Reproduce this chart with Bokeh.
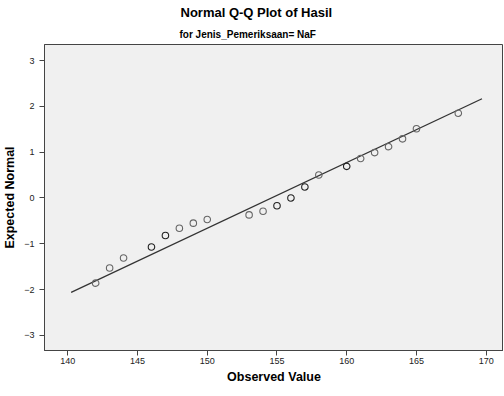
from bokeh.plotting import figure
from bokeh.models import Title, FixedTicker, Range1d, ColumnDataSource
from bokeh.embed import file_html
from bokeh.resources import INLINE

# Data
observed = [142, 143, 144, 146, 147, 148, 149, 150, 153, 154, 155,
            156, 157, 158, 160, 161, 162, 163, 164, 165, 168]
expected = [-1.86, -1.53, -1.31, -1.07, -0.82, -0.66, -0.55, -0.47, -0.37, -0.29, -0.17,
            0.00, 0.24, 0.50, 0.69, 0.86, 0.99, 1.12, 1.29, 1.51, 1.85]
counts = [1, 1, 1, 2, 2, 1, 1, 1, 1, 1, 2,
          2, 2, 1, 2, 1, 1, 1, 1, 1, 1]
line_x = [140.24, 169.7]
line_mean = 154.6
line_sd = 6.97
x_ticks = [140, 145, 150, 155, 160, 165, 170]
y_ticks = [-3, -2, -1, 0, 1, 2, 3]

FONT = "Liberation Sans"

p = figure(frame_width=459, frame_height=306, output_backend="svg", toolbar_location=None,
           x_range=Range1d(138.33, 171.24), y_range=Range1d(-3.33, 3.35),
           min_border_left=37, min_border_right=0, min_border_top=37, min_border_bottom=34)
p.title = None
p.background_fill_color = "#f0f0f0"
p.border_fill_color = "white"
p.outline_line_color = "#444444"
p.outline_line_width = 1
p.grid.visible = False

sub = Title(text="for Jenis_Pemeriksaan= NaF", align="left", offset=135,
            text_font=FONT, text_font_size="10px", text_font_style="bold",
            text_color="black", standoff=9)
main = Title(text="Normal Q-Q Plot of Hasil", align="left", offset=136,
             text_font=FONT, text_font_size="13px", text_font_style="bold",
             text_color="black", standoff=5)
p.add_layout(sub, "above")
p.add_layout(main, "above")

line_y = [(v - line_mean) / line_sd for v in line_x]
p.line(line_x, line_y, line_color="#333333", line_width=1.3)

colors = ["#222222" if c > 1 else "#666666" for c in counts]
src = ColumnDataSource(dict(x=observed, y=expected, c=colors))
p.scatter("x", "y", source=src, marker="circle", size=6.5, fill_color=None,
          line_color="c", line_width=1.1)

for ax in (p.xaxis[0], p.yaxis[0]):
    ax.axis_line_color = "#444444"
    ax.major_tick_line_color = "#444444"
    ax.major_tick_out = 5
    ax.major_tick_in = 0
    ax.minor_tick_line_color = None
    ax.major_label_text_font = FONT
    ax.major_label_text_font_size = "9px"
    ax.major_label_text_color = "#222222"
    ax.axis_label_text_font = FONT
    ax.axis_label_text_font_size = "12.5px"
    ax.axis_label_text_font_style = "bold"
    ax.axis_label_text_color = "black"

p.xaxis.ticker = FixedTicker(ticks=x_ticks)
p.yaxis.ticker = FixedTicker(ticks=y_ticks)
p.xaxis.axis_label = "Observed Value"
p.yaxis.axis_label = "Expected Normal"
p.xaxis.major_label_standoff = 2
p.xaxis.axis_label_standoff = 3
p.yaxis.major_label_standoff = 5
p.yaxis.axis_label_standoff = 4

open("out.html", "w").write(file_html(p, INLINE))
